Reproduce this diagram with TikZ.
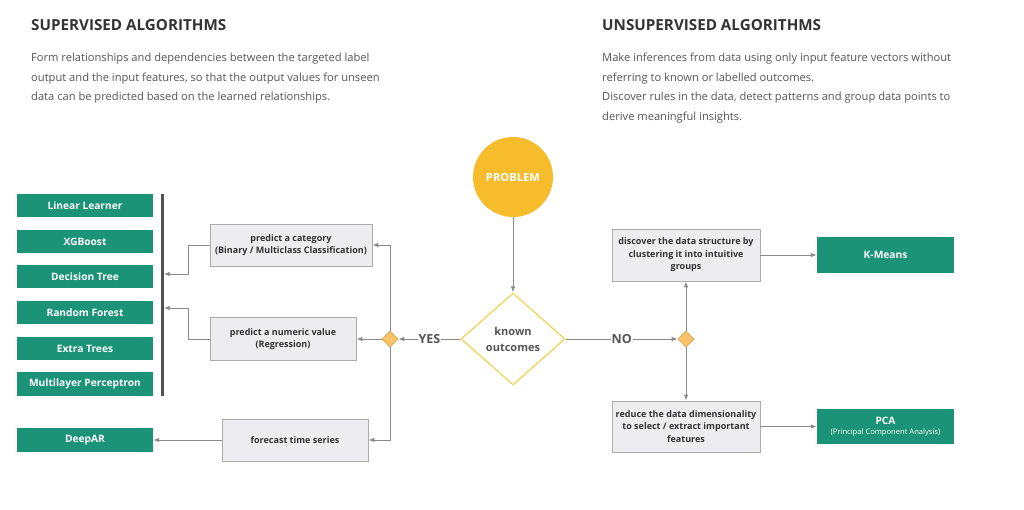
\documentclass[tikz,border=0pt]{standalone}
\usepackage{fontspec}
\setmainfont{Open Sans}
\usetikzlibrary{shapes.geometric,arrows.meta}
\definecolor{algogreen}{HTML}{1B9377}
\definecolor{probyellow}{HTML}{F7BC2C}
\definecolor{decborder}{HTML}{F2D253}
\definecolor{choicefill}{HTML}{FDC16A}
\definecolor{choiceborder}{HTML}{D9A441}
\definecolor{taskfill}{HTML}{EDEDEF}
\definecolor{taskborder}{HTML}{ABABAB}
\definecolor{linegray}{HTML}{8A8A8A}
\definecolor{textgray}{HTML}{555555}
\definecolor{headgray}{HTML}{333333}
\tikzset{
  algo/.style={fill=algogreen, text=white, font=\bfseries\fontsize{10.2}{11}\selectfont,
    minimum width=136pt, minimum height=23pt, inner sep=0pt, align=center},
  task/.style={fill=taskfill, draw=taskborder, line width=0.8pt, text=headgray,
    font=\bfseries\fontsize{9}{12.5}\selectfont, align=center, inner sep=0pt},
  flow/.style={draw=linegray, line width=0.9pt, -{Latex[length=6pt,width=4.5pt]}},
  choice/.style={diamond, fill=choicefill, draw=choiceborder, line width=0.6pt,
    minimum width=16pt, minimum height=16pt, inner sep=0pt},
  answer/.style={fill=white, text=textgray, inner sep=1pt, font=\bfseries\fontsize{12.5}{13}\selectfont},
  heading/.style={anchor=base west, inner sep=0pt, text=headgray, font=\bfseries\fontsize{15.2}{16}\selectfont},
  blurb/.style={anchor=north west, inner sep=0pt, text=textgray, align=left, font=\fontsize{11.15}{19.5}\selectfont}
}
\begin{document}
\begin{tikzpicture}[x=1pt,y=-1pt]
\useasboundingbox (0,0) rectangle (1024,510);
% headings
\node (suphead) [heading] at (31,31) {SUPERVISED ALGORITHMS};
\node (unshead) [heading] at (602,31) {UNSUPERVISED ALGORITHMS};
\node (suptext) [blurb] at (31,53) {Form relationships and dependencies between the targeted label\\
output and the input features, so that the output values for unseen\\
data can be predicted based on the learned relationships.};
\node (unstext) [blurb] at (602,53) {Make inferences from data using only input feature vectors without\\
referring to known or labelled outcomes.\\
Discover rules in the data, detect patterns and group data points to\\
derive meaningful insights.};
% problem and decision
\node (prob) [circle, fill=probyellow, minimum size=80pt, inner sep=0pt, text=white,
  font=\bfseries\fontsize{11.2}{12}\selectfont] at (513,177) {PROBLEM};
\node (known) [diamond, draw=decborder, fill=white, line width=1.2pt, minimum width=104pt,
  minimum height=92pt, inner sep=0pt, text=textgray, align=center,
  font=\bfseries\fontsize{11}{16}\selectfont] at (513,339) {known\\outcomes};
\node (lch) [choice] at (390,339) {};
\node (rch) [choice] at (686,339) {};
% supervised tasks
\node (cat) [task, minimum width=162pt, minimum height=42pt] at (291,245)
  {predict a category\\(Binary / Multiclass Classification)};
\node (num) [task, minimum width=146pt, minimum height=43pt] at (283,339)
  {predict a numeric value\\(Regression)};
\node (fore) [task, minimum width=146pt, minimum height=42pt] at (295,440)
  {forecast time series};
% unsupervised tasks
\node (disc) [task, minimum width=148pt, minimum height=52pt] at (686,255)
  {discover the data structure by\\clustering it into intuitive\\groups};
\node (red) [task, minimum width=148pt, minimum height=51pt] at (686,426.5)
  {reduce the data dimensionality\\to select / extract important\\features};
% algorithms
\node (ll) [algo] at (85,205.5) {Linear Learner};
\node (xgb) [algo] at (85,241.5) {XGBoost};
\node (dt) [algo] at (85,276.5) {Decision Tree};
\node (rf) [algo] at (85,312.5) {Random Forest};
\node (et) [algo] at (85,348.5) {Extra Trees};
\node (mlp) [algo, minimum height=24pt] at (85,384) {Multilayer Perceptron};
\node (dar) [algo, minimum height=24pt] at (85,440) {DeepAR};
\node (km) [algo, minimum width=137pt, minimum height=36pt] at (885.5,255) {K-Means};
\node (pca) [algo, minimum width=137pt, minimum height=35pt] at (885.5,426.5)
  {PCA\\[-1pt]{\mdseries\fontsize{7.6}{8}\selectfont (Principal Component Analysis)}};
\node (bar) [fill=headgray!85, minimum width=3pt, minimum height=202pt, inner sep=0pt] at (162,295) {};
% connectors
\coordinate (catbend) at (188,274);
\coordinate (numbend) at (188,308);
\draw[flow] (prob.south) -- (known.north);
\draw[flow] (known.west) -- node[answer] {YES} (lch.east);
\draw[flow] (known.east) -- node[answer] {NO} (rch.west);
\draw[flow] (lch.west) -- (num.east);
\draw[flow] (lch.north) |- (cat.east);
\draw[flow] (lch.south) |- (fore.east);
\draw[flow] (cat.west) -| (catbend) -- (catbend -| bar.east);
\draw[flow] (num.west) -| (numbend) -- (numbend -| bar.east);
\draw[flow] (fore.west) -- (dar.east);
\draw[flow] (rch.north) -- (disc.south);
\draw[flow] (rch.south) -- (red.north);
\draw[flow] (disc.east) -- (km.west);
\draw[flow] (red.east) -- (pca.west);
\end{tikzpicture}
\end{document}
